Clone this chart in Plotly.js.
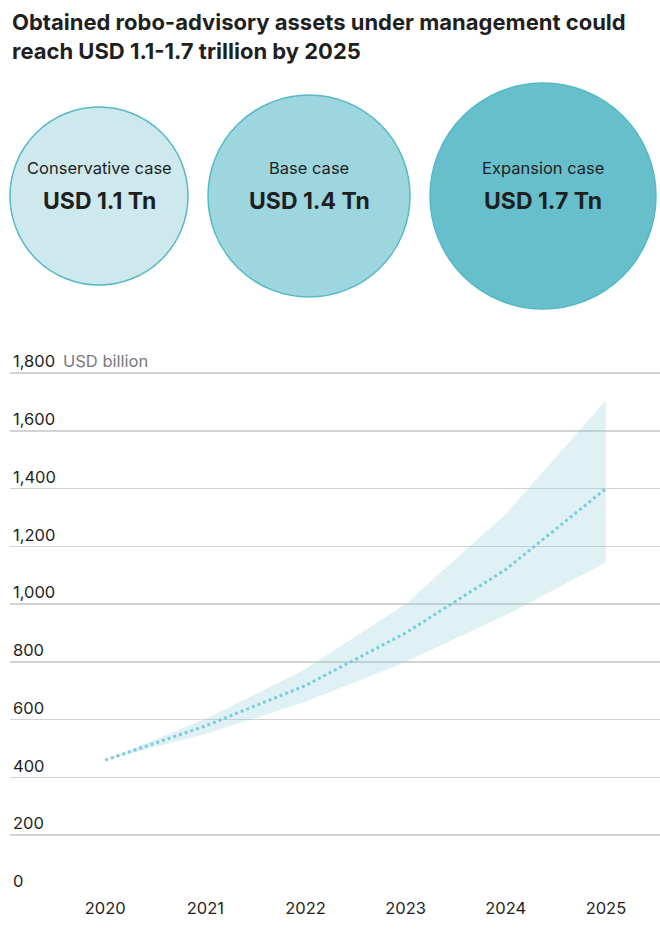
<!DOCTYPE html>
<html>
<head>
<meta charset="utf-8">
<script src="https://cdn.plot.ly/plotly-3.0.1.min.js"></script>
<style>html,body{margin:0;padding:0;background:#fff;}#chart{width:660px;height:932px;}</style>
</head>
<body>
<div id="chart"></div>
<script>
// ---- data ----
const years = [2020, 2021, 2022, 2023, 2024, 2025];
const baseCase = [460, 578, 718, 900, 1120, 1400];
const upperBound = [460, 602, 775, 1000, 1312, 1706];
const lowerBound = [460, 550, 662, 800, 962, 1144];

const scenarioNames = ["Conservative case", "Base case", "Expansion case"];
const scenarioValues = [1.1, 1.4, 1.7];            // USD trillion
const scenarioLabels = ["USD 1.1 Tn", "USD 1.4 Tn", "USD 1.7 Tn"];
const scenarioFills = ["#cde9ee", "#9dd6df", "#67bfcb"];

const yTicks = [0, 200, 400, 600, 800, 1000, 1200, 1400, 1600, 1800];
const yTickText = ["0", "200", "400", "600", "800", "1,000", "1,200", "1,400", "1,600", "1,800"];

// ---- styling ----
const FONT = "Inter, 'Open Sans', sans-serif";
const TEXT = "#1f1f1f";
const W = 660, H = 932;
const Y0PX = 893, PX_PER_UNIT = 520 / 1800, YMAX = 1880;

// circle diameters derived from scenario values
const diam = scenarioValues.map(v => 80 * v + 90);
const gap = 20;
const centers = [];
let edge = 10;
diam.forEach(d => { centers.push(edge + d / 2); edge += d + gap; });
const cy = scenarioValues.map(() => 196);

const traces = [
  {
    x: years, y: lowerBound, type: "scatter", mode: "lines",
    line: {width: 0, color: "rgba(0,0,0,0)"}, hoverinfo: "skip", showlegend: false
  },
  {
    x: years, y: upperBound, type: "scatter", mode: "lines", fill: "tonexty",
    fillcolor: "rgba(140,205,220,0.28)",
    line: {width: 0, color: "rgba(0,0,0,0)"}, hoverinfo: "skip", showlegend: false
  },
  {
    x: years, y: baseCase, type: "scatter", mode: "lines",
    line: {color: "#7ccdd8", width: 3, dash: "dot"}, showlegend: false
  },
  {
    x: centers, y: cy, xaxis: "x2", yaxis: "y2", type: "scatter", mode: "markers",
    marker: {size: diam, sizemode: "diameter", color: scenarioFills, opacity: 1,
             line: {color: "#55b9c6", width: 1.5}},
    hoverinfo: "skip", showlegend: false, cliponaxis: false
  }
];

const annotations = [];
annotations.push({xref: "paper", yref: "paper", x: 10 / W, y: 1 - 7 / H,
  text: "Obtained robo-advisory assets under management could<br>reach USD 1.1-1.7 trillion by 2025",
  showarrow: false, align: "left", xanchor: "left", yanchor: "top",
  font: {family: FONT, size: 22, color: TEXT, weight: 700}});
scenarioNames.forEach((n, i) => {
  annotations.push({xref: "x2", yref: "y2", x: centers[i], y: 168, text: n, showarrow: false,
    font: {family: FONT, size: 16.5, color: TEXT}, xanchor: "center", yanchor: "middle"});
  annotations.push({xref: "x2", yref: "y2", x: centers[i], y: 201, text: scenarioLabels[i], showarrow: false,
    font: {family: FONT, size: 23, color: TEXT, weight: 700}, xanchor: "center", yanchor: "middle"});
});
annotations.push({xref: "x2", yref: "y2", x: 61, y: 361, text: "USD billion", showarrow: false,
  font: {family: FONT, size: 16.5, color: "#7a7a7a"}, xanchor: "left", yanchor: "middle"});

const layout = {
  width: W, height: H,
  margin: {l: 0, r: 0, t: 0, b: 0},
  paper_bgcolor: "#fff", plot_bgcolor: "rgba(0,0,0,0)",
  xaxis: {
    domain: [10 / W, 1], range: [2019.05, 2025.54],
    tickvals: years, ticktext: years.map(String),
    showgrid: false, zeroline: false, showline: false, ticks: "",
    tickfont: {family: FONT, size: 16.5, color: TEXT}, ticklabelstandoff: 3
  },
  yaxis: {
    domain: [(H - Y0PX) / H, (H - (Y0PX - YMAX * PX_PER_UNIT)) / H], range: [0, YMAX],
    tickvals: yTicks, ticktext: yTickText,
    ticklabelposition: "inside top",
    showgrid: true, gridcolor: "#d3d3d3", gridwidth: 1.5,
    zeroline: false, showline: false, ticks: "",
    tickfont: {family: FONT, size: 16.5, color: TEXT}
  },
  xaxis2: {domain: [0, 1], range: [0, W], visible: false, fixedrange: true, anchor: "y2"},
  yaxis2: {domain: [0, 1], range: [H, 0], visible: false, fixedrange: true, anchor: "x2"},
  annotations: annotations,
  showlegend: false
};

Plotly.newPlot("chart", traces, layout, {displayModeBar: false, staticPlot: true});
</script>
</body>
</html>
